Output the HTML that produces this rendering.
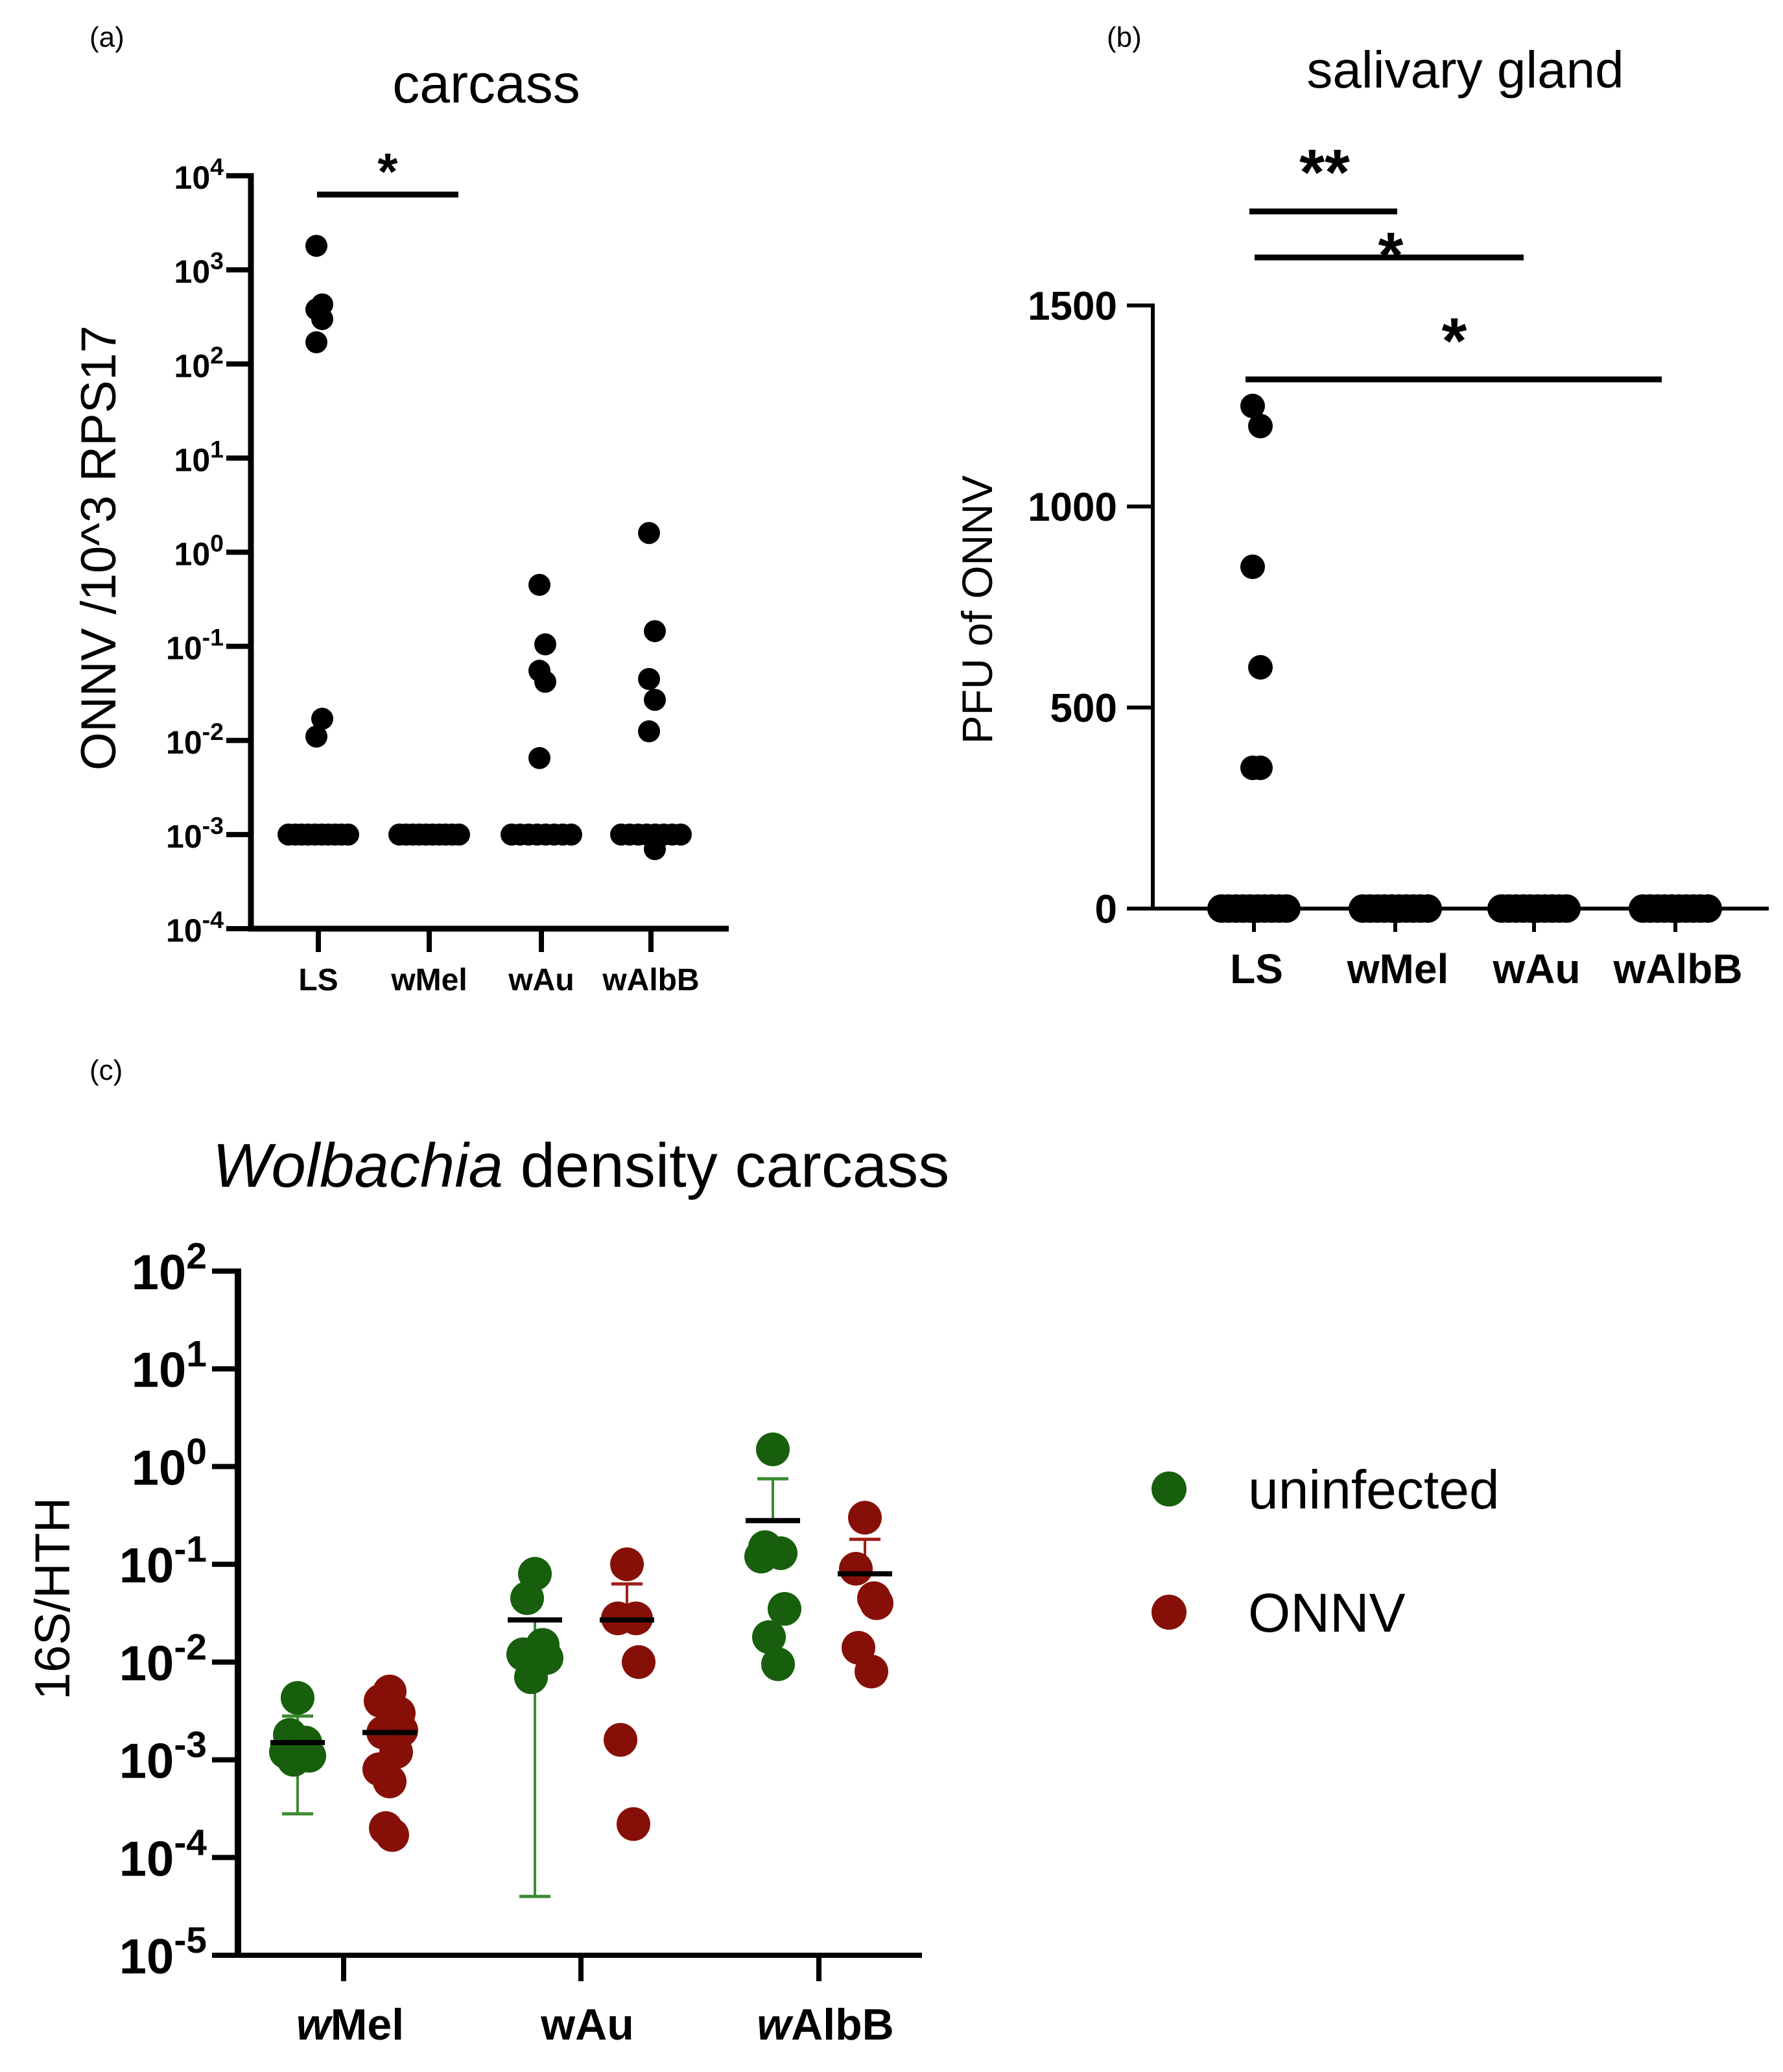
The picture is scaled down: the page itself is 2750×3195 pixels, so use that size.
<!DOCTYPE html>
<html><head><meta charset="utf-8"><style>
html,body{margin:0;padding:0;background:#fff;}
svg{display:block;}
text{font-family:"Liberation Sans",Arial,sans-serif;}
</style></head><body>
<svg id="fig" width="2750" height="3195" viewBox="0 0 2750 3195" xmlns="http://www.w3.org/2000/svg">
<g id="pa"></g>
<g id="pb"></g>
<g id="pc"></g>
</svg>
<script>
// ---- Panel A data (log scale) ----
const aCats = ["LS","wMel","wAu","wAlbB"];
const aHigh = [[1800,430,380,300,170,0.017,0.011],[],[0.45,0.105,0.055,0.042,0.0065],[1.6,0.145,0.045,0.027,0.0125,0.0007]];
const aFloorCounts = [10,10,8,8];
const aFloorValue = 0.001;
const aTickExp = [4,3,2,1,0,-1,-2,-3,-4];
// ---- Panel B data ----
const bCats = ["LS","wMel","wAu","wAlbB"];
const bHigh = [[1250,1200,850,600,350,350],[],[],[]];
const bZeroCounts = [10,10,10,10];
const bTicks = [0,500,1000,1500];
// ---- Panel C data ----
const cCats = ["wMel","wAu","wAlbB"];
const cUninf = [[0.0043,0.0018,0.0015,0.0012,0.0011,0.001],[0.08,0.045,0.015,0.012,0.011,0.007],[1.5,0.15,0.13,0.12,0.035,0.018,0.0095]];
const cOnnv = [[0.005,0.004,0.003,0.002,0.0019,0.0012,0.0008,0.0006,0.0002,0.00017],[0.1,0.028,0.028,0.01,0.0016,0.00022],[0.3,0.09,0.045,0.04,0.014,0.008]];
const cUninfMean = [0.0015,0.027,0.28];
const cUninfLow = [0.00028,0.00004,0.28];
const cUninfHigh = [0.0028,0.027,0.75];
const cOnnvMean = [0.0019,0.027,0.08];
const cOnnvLow = [0.0019,0.027,0.08];
const cOnnvHigh = [0.0019,0.063,0.18];
const cTickExp = [2,1,0,-1,-2,-3,-4,-5];

const NS="http://www.w3.org/2000/svg";
function mk(parent,tag,attrs,txt){const e=document.createElementNS(NS,tag);for(const k in attrs)e.setAttribute(k,attrs[k]);if(txt!==undefined)e.textContent=txt;parent.appendChild(e);return e;}
function powLabel(g,x,y,exp,fs,name){
  const t=mk(g,"text",{x:x,y:y,"text-anchor":"end","font-size":fs,"font-weight":"bold"});
  
  
  const a=document.createElementNS(NS,"tspan");a.textContent="10";t.appendChild(a);
  const b=document.createElementNS(NS,"tspan");b.setAttribute("dy",-fs*0.42);b.setAttribute("font-size",fs*0.75);b.textContent=String(exp);t.appendChild(b);
  return t;
}

// ===== Panel A =====
(function(){
  const g=document.getElementById("pa");
  const X0=387,XE=1124,YT=271,YB=1432,emax=4,emin=-4;
  const catX=[491,662,835,1004];
  const y=v=>YT+(emax-Math.log10(v))/(emax-emin)*(YB-YT);
  let t=mk(g,"text",{x:138,y:72,"font-size":44},"(a)");
  
  t=mk(g,"text",{x:750,y:158,"font-size":84,"text-anchor":"middle"},"carcass");
  
  t=mk(g,"text",{x:0,y:0,"font-size":76,"text-anchor":"middle",transform:"translate(178,845) rotate(-90)"},"ONNV /10^3 RPS17");
  
  let l=mk(g,"line",{x1:X0,y1:YT-4,x2:X0,y2:YB+4,stroke:"#000","stroke-width":9});
  
  l=mk(g,"line",{x1:X0-4,y1:YB,x2:XE,y2:YB,stroke:"#000","stroke-width":9});
  
  aTickExp.forEach(e=>{const yy=y(Math.pow(10,e));
    const tk=mk(g,"line",{x1:X0-38,y1:yy,x2:X0,y2:yy,stroke:"#000","stroke-width":8});
    
    powLabel(g,X0-42,yy+20,e,50,'y-tick-label-a');});
  aCats.forEach((c,i)=>{
    const tk=mk(g,"line",{x1:catX[i],y1:YB,x2:catX[i],y2:YB+36,stroke:"#000","stroke-width":8});
    
    const tl=mk(g,"text",{x:catX[i],y:YB+95,"font-size":48,"font-weight":"bold","text-anchor":"middle"},c);
    
    const n=aFloorCounts[i];
    for(let k=0;k<n;k++){const dx=-46+92*k/(n-1);
      const p=mk(g,"circle",{cx:catX[i]+dx,cy:y(aFloorValue),r:17,fill:"#000"});
      }
    aHigh[i].forEach((v,k)=>{const dx=(k%2?6:-3);
      const p=mk(g,"circle",{cx:catX[i]+dx,cy:y(v),r:17,fill:"#000"});
      });
  });
  l=mk(g,"line",{x1:catX[0]-2,y1:300,x2:catX[1]+45,y2:300,stroke:"#000","stroke-width":9});
  
  t=mk(g,"text",{x:598,y:292,"font-size":80,"font-weight":"bold","text-anchor":"middle"},"*");
  
})();

// ===== Panel B =====
(function(){
  const g=document.getElementById("pb");
  const X0=1778,XE=2728,YT=471,YB=1401,vmax=1500;
  const catX=[1934,2152,2366,2584];
  const y=v=>YB-(v/vmax)*(YB-YT);
  let t=mk(g,"text",{x:1707,y:72,"font-size":44},"(b)");
  
  t=mk(g,"text",{x:2260,y:135,"font-size":80,"text-anchor":"middle"},"salivary gland");
  
  t=mk(g,"text",{x:0,y:0,"font-size":66,"text-anchor":"middle",transform:"translate(1530,940) rotate(-90)"},"PFU of ONNV");
  
  let l=mk(g,"line",{x1:X0,y1:YT-3,x2:X0,y2:YB+3,stroke:"#000","stroke-width":6});
  
  l=mk(g,"line",{x1:X0-40,y1:YB,x2:XE,y2:YB,stroke:"#000","stroke-width":6});
  
  bTicks.forEach(v=>{const yy=y(v);
    const tk=mk(g,"line",{x1:X0-40,y1:yy,x2:X0,y2:yy,stroke:"#000","stroke-width":6});
    
    const tl=mk(g,"text",{x:X0-55,y:yy+22,"font-size":62,"font-weight":"bold","text-anchor":"end"},String(v));
    });
  bCats.forEach((c,i)=>{
    const tk=mk(g,"line",{x1:catX[i],y1:YB,x2:catX[i],y2:YB+36,stroke:"#000","stroke-width":6});
    
    const tl=mk(g,"text",{x:catX[i]+4,y:YB+115,"font-size":64,"font-weight":"bold","text-anchor":"middle"},c);
    
    const n=bZeroCounts[i];
    for(let k=0;k<n;k++){const dx=-50+100*k/(n-1);
      const p=mk(g,"circle",{cx:catX[i]+dx,cy:y(0),r:22,fill:"#000"});
      }
    bHigh[i].forEach((v,k)=>{const dx=(k%2?10:-2);
      const p=mk(g,"circle",{cx:catX[i]+dx,cy:y(v),r:19,fill:"#000"});
      });
  });
  const bars=[[1927,2155,326,2043,300,"**"],[1935,2350,397,2145,428,"*"],[1921,2563,585,2243,560,"*"]];
  bars.forEach(b=>{
    const bl=mk(g,"line",{x1:b[0],y1:b[2],x2:b[1],y2:b[2],stroke:"#000","stroke-width":9});
    
    const st=mk(g,"text",{x:b[3],y:b[4],"font-size":100,"font-weight":"bold","text-anchor":"middle"},b[5]);
    });
})();

// ===== Panel C =====
(function(){
  const g=document.getElementById("pc");
  const X0=367,XE=1422,YT=1960,YB=3015,emax=2,emin=-5;
  const catX=[530,896,1263],off=71;
  const G="#175f0c",R="#861007",GE="#3d8a33",RE="#a0201a";
  const y=v=>YT+(emax-Math.log10(v))/(emax-emin)*(YB-YT);
  let t=mk(g,"text",{x:138,y:1665,"font-size":44},"(c)");
  
  t=mk(g,"text",{x:896,y:1830,"font-size":96,"text-anchor":"middle"});
  
  const ts=document.createElementNS(NS,"tspan");ts.setAttribute("font-style","italic");ts.textContent="Wolbachia";t.appendChild(ts);
  t.appendChild(document.createTextNode(" density carcass"));
  t=mk(g,"text",{x:0,y:0,"font-size":76,"text-anchor":"middle",transform:"translate(107,2465) rotate(-90)"},"16S/HTH");
  
  let l=mk(g,"line",{x1:X0,y1:YT-4,x2:X0,y2:YB+4,stroke:"#000","stroke-width":10});
  
  l=mk(g,"line",{x1:X0-40,y1:YB,x2:XE,y2:YB,stroke:"#000","stroke-width":8});
  
  cTickExp.forEach(e=>{const yy=y(Math.pow(10,e));
    const tk=mk(g,"line",{x1:X0-40,y1:yy,x2:X0,y2:yy,stroke:"#000","stroke-width":8});
    
    powLabel(g,X0-48,yy+28,e,76,'y-tick-label-c');});
  cCats.forEach((c,i)=>{
    const tk=mk(g,"line",{x1:catX[i],y1:YB,x2:catX[i],y2:YB+40,stroke:"#000","stroke-width":8});
    
    const tl=mk(g,"text",{x:catX[i]+10,y:YB+130,"font-size":68,"font-weight":"bold","text-anchor":"middle"});
    
    if(i===1){tl.textContent=c;}else{const a=document.createElementNS(NS,"tspan");a.setAttribute("font-style","italic");a.textContent="w";tl.appendChild(a);tl.appendChild(document.createTextNode(c.slice(1)));}
    [[catX[i]-off,cUninfLow[i],cUninfHigh[i],cUninfMean[i],GE,G],[catX[i]+off,cOnnvLow[i],cOnnvHigh[i],cOnnvMean[i],RE,R]].forEach(s=>{
      const eb=mk(g,"line",{x1:s[0],y1:y(s[1]),x2:s[0],y2:y(s[2]),stroke:s[4],"stroke-width":4});
      
      [s[1],s[2]].forEach(v=>{const cap=mk(g,"line",{x1:s[0]-24,y1:y(v),x2:s[0]+24,y2:y(v),stroke:s[4],"stroke-width":5});
        });
    });
    cUninf[i].forEach((v,k)=>{const dx=[0,-12,12,-18,18,-6,8][k%7];
      const p=mk(g,"circle",{cx:catX[i]-off+dx,cy:y(v),r:26,fill:G});
      });
    cOnnv[i].forEach((v,k)=>{const dx=[0,-14,14,18,-10,10,-16,0,-6,4][k%10];
      const p=mk(g,"circle",{cx:catX[i]+off+dx,cy:y(v),r:26,fill:R});
      });
    [[catX[i]-off,cUninfMean[i]],[catX[i]+off,cOnnvMean[i]]].forEach(s=>{
      const m=mk(g,"line",{x1:s[0]-42,y1:y(s[1]),x2:s[0]+42,y2:y(s[1]),stroke:"#000","stroke-width":8});
      });
  });
  const lg=mk(g,"g",{});
  
  let c=mk(lg,"circle",{cx:1803,cy:2296,r:27,fill:G});
  
  t=mk(lg,"text",{x:1925,y:2326,"font-size":84},"uninfected");
  
  c=mk(lg,"circle",{cx:1803,cy:2486,r:27,fill:R});
  
  t=mk(lg,"text",{x:1925,y:2516,"font-size":84},"ONNV");
  
})();
</script>
</body></html>
